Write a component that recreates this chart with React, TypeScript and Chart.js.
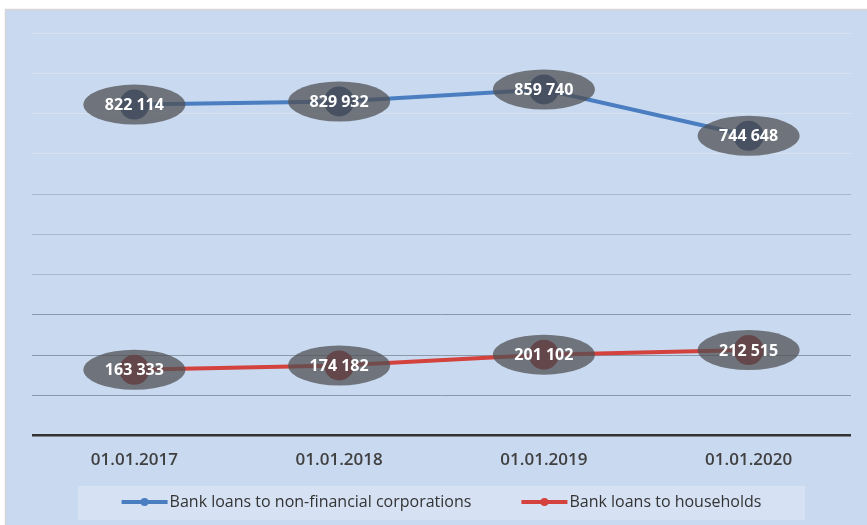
import React, { useEffect, useRef } from "react";
import { Chart, registerables } from "chart.js";

Chart.register(...registerables);

const categories = ["01.01.2017", "01.01.2018", "01.01.2019", "01.01.2020"];
const corporateLoans = [822114, 829932, 859740, 744648];
const householdLoans = [163333, 174182, 201102, 212515];
const seriesNames = ["Bank loans to non-financial corporations", "Bank loans to households"];
const yMin = 0;
const yMax = 1000000;
const yStep = 100000;

const FONT = "'Open Sans', 'Noto Sans', sans-serif";
const BLUE = "#4a7ec0";
const RED = "#d3423d";

function fmt(v: number): string {
  const th = Math.floor(v / 1000);
  const rest = String(v % 1000).padStart(3, "0");
  return `${th} ${rest}`;
}

const bgPlugin = {
  id: "panelBg",
  beforeDraw(chart: any) {
    const { ctx, width, height } = chart;
    ctx.save();
    ctx.fillStyle = "#ffffff";
    ctx.fillRect(0, 0, width, height);
    ctx.fillStyle = "#c8d9f0";
    ctx.fillRect(5, 9, width - 5, height - 9);
    ctx.strokeStyle = "#d6d6d6";
    ctx.lineWidth = 1.5;
    ctx.beginPath();
    ctx.moveTo(5.5, height);
    ctx.lineTo(5.5, 9.5);
    ctx.lineTo(width, 9.5);
    ctx.stroke();
    ctx.restore();
  },
};

const labelPlugin = {
  id: "ellipseLabels",
  afterDatasetsDraw(chart: any) {
    const { ctx } = chart;
    ctx.save();
    chart.data.datasets.forEach((ds: any, di: number) => {
      const meta = chart.getDatasetMeta(di);
      meta.data.forEach((pt: any, i: number) => {
        const x = pt.x;
        const y = pt.y;
        ctx.beginPath();
        ctx.ellipse(x, y, 51, 20, 0, 0, Math.PI * 2);
        ctx.fillStyle = "rgba(80,80,82,0.74)";
        ctx.fill();
        ctx.fillStyle = "#ffffff";
        ctx.font = `bold 16px ${FONT}`;
        ctx.textAlign = "center";
        ctx.textBaseline = "middle";
        ctx.fillText(fmt(ds.data[i]), x, y + 1);
      });
    });
    ctx.restore();
  },
};

const legendPlugin = {
  id: "customLegend",
  afterDraw(chart: any) {
    const { ctx, chartArea } = chart;
    const cx = (chartArea.left + chartArea.right) / 2;
    const boxL = 78;
    const boxR = 2 * cx - boxL;
    ctx.save();
    ctx.fillStyle = "#d6e2f3";
    ctx.fillRect(boxL, 486, boxR - boxL, 34);
    ctx.font = `16px ${FONT}`;
    const colors = [BLUE, RED];
    const w0 = ctx.measureText(seriesNames[0]).width;
    const w1 = ctx.measureText(seriesNames[1]).width;
    const marker = 46;
    const gap = 2;
    const between = 50;
    const total = marker + gap + w0 + between + marker + gap + w1;
    let x = cx - total / 2;
    const y = 502;
    [w0, w1].forEach((w, k) => {
      ctx.strokeStyle = colors[k];
      ctx.lineWidth = 4;
      ctx.beginPath();
      ctx.moveTo(x, y);
      ctx.lineTo(x + marker, y);
      ctx.stroke();
      ctx.fillStyle = colors[k];
      ctx.beginPath();
      ctx.arc(x + marker / 2, y, 4, 0, Math.PI * 2);
      ctx.fill();
      ctx.fillStyle = "#333333";
      ctx.textAlign = "left";
      ctx.textBaseline = "middle";
      ctx.fillText(seriesNames[k], x + marker + gap, y);
      x += marker + gap + w + between;
    });
    ctx.restore();
  },
};

function gridColor(v: number): string {
  if (v === 0) return "#333333";
  if (v <= 300000) return "#8a99aa";
  if (v <= 600000) return "#a9b8ca";
  return "#d9e3ef";
}

export default function App() {
  const ref = useRef<HTMLCanvasElement>(null);
  useEffect(() => {
    document.body.style.margin = "0";
    const chart = new Chart(ref.current as HTMLCanvasElement, {
      type: "line",
      data: {
        labels: categories,
        datasets: [
          {
            label: seriesNames[0],
            data: corporateLoans,
            borderColor: BLUE,
            borderWidth: 4,
            pointRadius: 15,
            pointBackgroundColor: "#34578a",
            pointBorderWidth: 0,
            tension: 0,
          },
          {
            label: seriesNames[1],
            data: householdLoans,
            borderColor: RED,
            borderWidth: 4,
            pointRadius: 15,
            pointBackgroundColor: "#9c3035",
            pointBorderWidth: 0,
            tension: 0,
          },
        ],
      },
      options: {
        responsive: false,
        animation: false,
        layout: { padding: { left: 32, right: 16, top: 33, bottom: 41 } },
        plugins: {
          legend: { display: false },
          tooltip: { enabled: false },
        },
        scales: {
          x: {
            offset: true,
            grid: { display: false, drawTicks: false },
            border: { display: false },
            ticks: {
              padding: 14,
              color: "#404040",
              font: { family: FONT, size: 17, weight: "600" },
            },
          },
          y: {
            min: yMin,
            max: yMax,
            border: { display: false },
            grid: {
              drawTicks: false,
              color: (c: any) => gridColor(c.tick ? c.tick.value : 1),
              lineWidth: (c: any) => (c.tick && c.tick.value === 0 ? 2.5 : 1),
            },
            ticks: { display: false, stepSize: yStep },
          },
        },
      },
      plugins: [bgPlugin, labelPlugin, legendPlugin],
    });
    return () => chart.destroy();
  }, []);
  return <canvas ref={ref} width={867} height={525} style={{ display: "block" }} />;
}
